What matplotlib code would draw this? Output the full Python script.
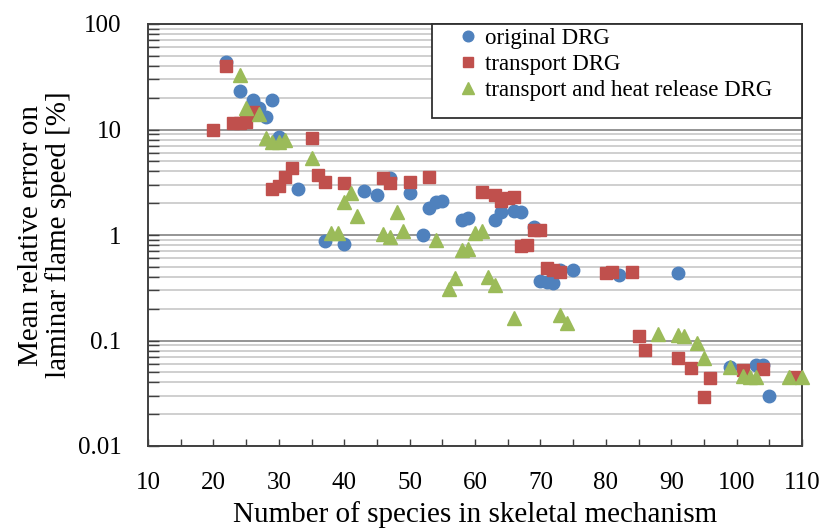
import matplotlib
matplotlib.use("Agg")
import matplotlib.pyplot as plt
from matplotlib.ticker import FixedLocator, FixedFormatter, LogLocator, NullFormatter, MultipleLocator
from matplotlib.patches import Rectangle

plt.rcParams['font.family'] = ['Liberation Serif', 'DejaVu Serif']

# ---- data ----
orig_x = [22, 24, 26, 27, 28, 29, 30, 33, 37, 40, 43, 45, 47, 50, 52, 53, 54, 55,
          58, 59, 63, 64, 66, 67, 69, 70, 71, 72, 73, 75, 82, 91, 99, 103, 104, 105]
orig_y = [44, 23, 19, 16, 13, 19, 8.5, 2.7, 0.88, 0.83, 2.6, 2.4, 3.5, 2.5, 1.0, 1.8, 2.05, 2.1,
          1.4, 1.45, 1.4, 1.65, 1.7, 1.65, 1.2, 0.37, 0.36, 0.35, 0.47, 0.47, 0.42, 0.44,
          0.056, 0.058, 0.058, 0.030]

trans_x = [20, 22, 23, 24, 25, 26, 29, 30, 31, 32, 35, 36, 37, 40, 46, 47, 50, 53,
           61, 63, 64, 65, 66, 67, 68, 69, 70, 71, 72, 73, 80, 81, 84, 85, 86,
           91, 93, 95, 96, 101, 104, 109]
trans_y = [10, 40, 11.5, 11.5, 11.8, 14.5, 2.7, 2.9, 3.55, 4.3, 8.3, 3.7, 3.2, 3.1, 3.5, 3.1, 3.2, 3.55,
           2.55, 2.4, 2.1, 2.25, 2.3, 0.78, 0.8, 1.12, 1.12, 0.49, 0.47, 0.45, 0.44, 0.45, 0.45,
           0.11, 0.081, 0.068, 0.055, 0.029, 0.044, 0.052, 0.054, 0.045]

heat_x = [24, 25, 27, 28, 29, 30, 31, 35, 38, 39, 40, 41, 42, 46, 47, 48, 49, 54,
          56, 57, 58, 59, 60, 61, 62, 63, 66, 73, 74, 88, 91, 92, 94, 95, 99,
          101, 102, 103, 108, 110]
heat_y = [33, 16, 14, 8.3, 7.6, 7.6, 8.0, 5.4, 1.05, 1.05, 2.05, 2.5, 1.5, 1.02, 0.96, 1.65, 1.1, 0.9,
          0.31, 0.39, 0.72, 0.74, 1.05, 1.08, 0.40, 0.335, 0.165, 0.175, 0.145, 0.115, 0.113, 0.11,
          0.095, 0.068, 0.056, 0.046, 0.045, 0.045, 0.045, 0.045]

labels = ["original DRG", "transport DRG", "transport and heat release DRG"]
x_ticks = [10, 20, 30, 40, 50, 60, 70, 80, 90, 100, 110]
y_ticks = [0.01, 0.1, 1, 10, 100]
y_tick_labels = ["0.01", "0.1", "1", "10", "100"]

blue = "#4F81BD"
red = "#C0504D"
green = "#9BBB59"

fig = plt.figure(figsize=(8.23, 5.30), dpi=100)
ax = fig.add_axes([148/823, 1-446/530, 654/823, 422/530])

ax.set_yscale('log')
ax.set_xlim(10, 110)
ax.set_ylim(0.01, 100)

ax.yaxis.set_major_locator(FixedLocator(y_ticks))
ax.yaxis.set_major_formatter(FixedFormatter(y_tick_labels))
ax.yaxis.set_minor_locator(LogLocator(base=10, subs=range(2, 10)))
ax.yaxis.set_minor_formatter(NullFormatter())
ax.xaxis.set_major_locator(FixedLocator(x_ticks))
ax.xaxis.set_minor_locator(MultipleLocator(5))

ax.grid(True, which='major', axis='y', color='#8c8c8c', linewidth=1.3)
ax.grid(True, which='minor', axis='y', color='#cccccc', linewidth=1.3)
ax.set_axisbelow(True)

ms = 9
ax.plot(orig_x, orig_y, 'o', ms=ms, color=blue, mec=blue, label=labels[0], clip_on=False, zorder=3)
ax.plot(trans_x, trans_y, 's', ms=ms - 0.3, color=red, mec=red, label=labels[1], clip_on=False, zorder=4)
ax.plot(heat_x, heat_y, '^', ms=ms + 0.5, color=green, mec=green, label=labels[2], clip_on=False, zorder=5)

for s in ax.spines.values():
    s.set_color('#404040')
    s.set_linewidth(1.4)

ax.tick_params(axis='both', which='both', direction='in', colors='#404040',
               labelcolor='black', labelsize=18)
ax.tick_params(axis='y', which='major', length=8, width=1.0, pad=19)
ax.tick_params(axis='y', which='minor', length=8, width=1.0)
ax.tick_params(axis='x', which='both', length=5, width=1.0, pad=19)

ax.set_xlabel("Number of species in skeletal mechanism", fontsize=21, labelpad=5)
ax.set_ylabel("Mean relative error on\nlaminar flame speed [%]", fontsize=21,
              linespacing=1.05, labelpad=4)

# legend frame
rect = Rectangle((0.434, 0.777), 0.566, 0.223, transform=ax.transAxes,
                 facecolor='white', edgecolor='#303030', linewidth=1.3, zorder=6, clip_on=False)
ax.add_patch(rect)
leg = ax.legend(loc='upper left', bbox_to_anchor=(0.4717, 0.990), frameon=False,
                fontsize=16.5, handlelength=1.0, handletextpad=0.25, labelspacing=0.22,
                borderpad=0.0, borderaxespad=0.0, markerscale=0.85)
leg.set_zorder(7)

fig.savefig("out.png", dpi=100)
